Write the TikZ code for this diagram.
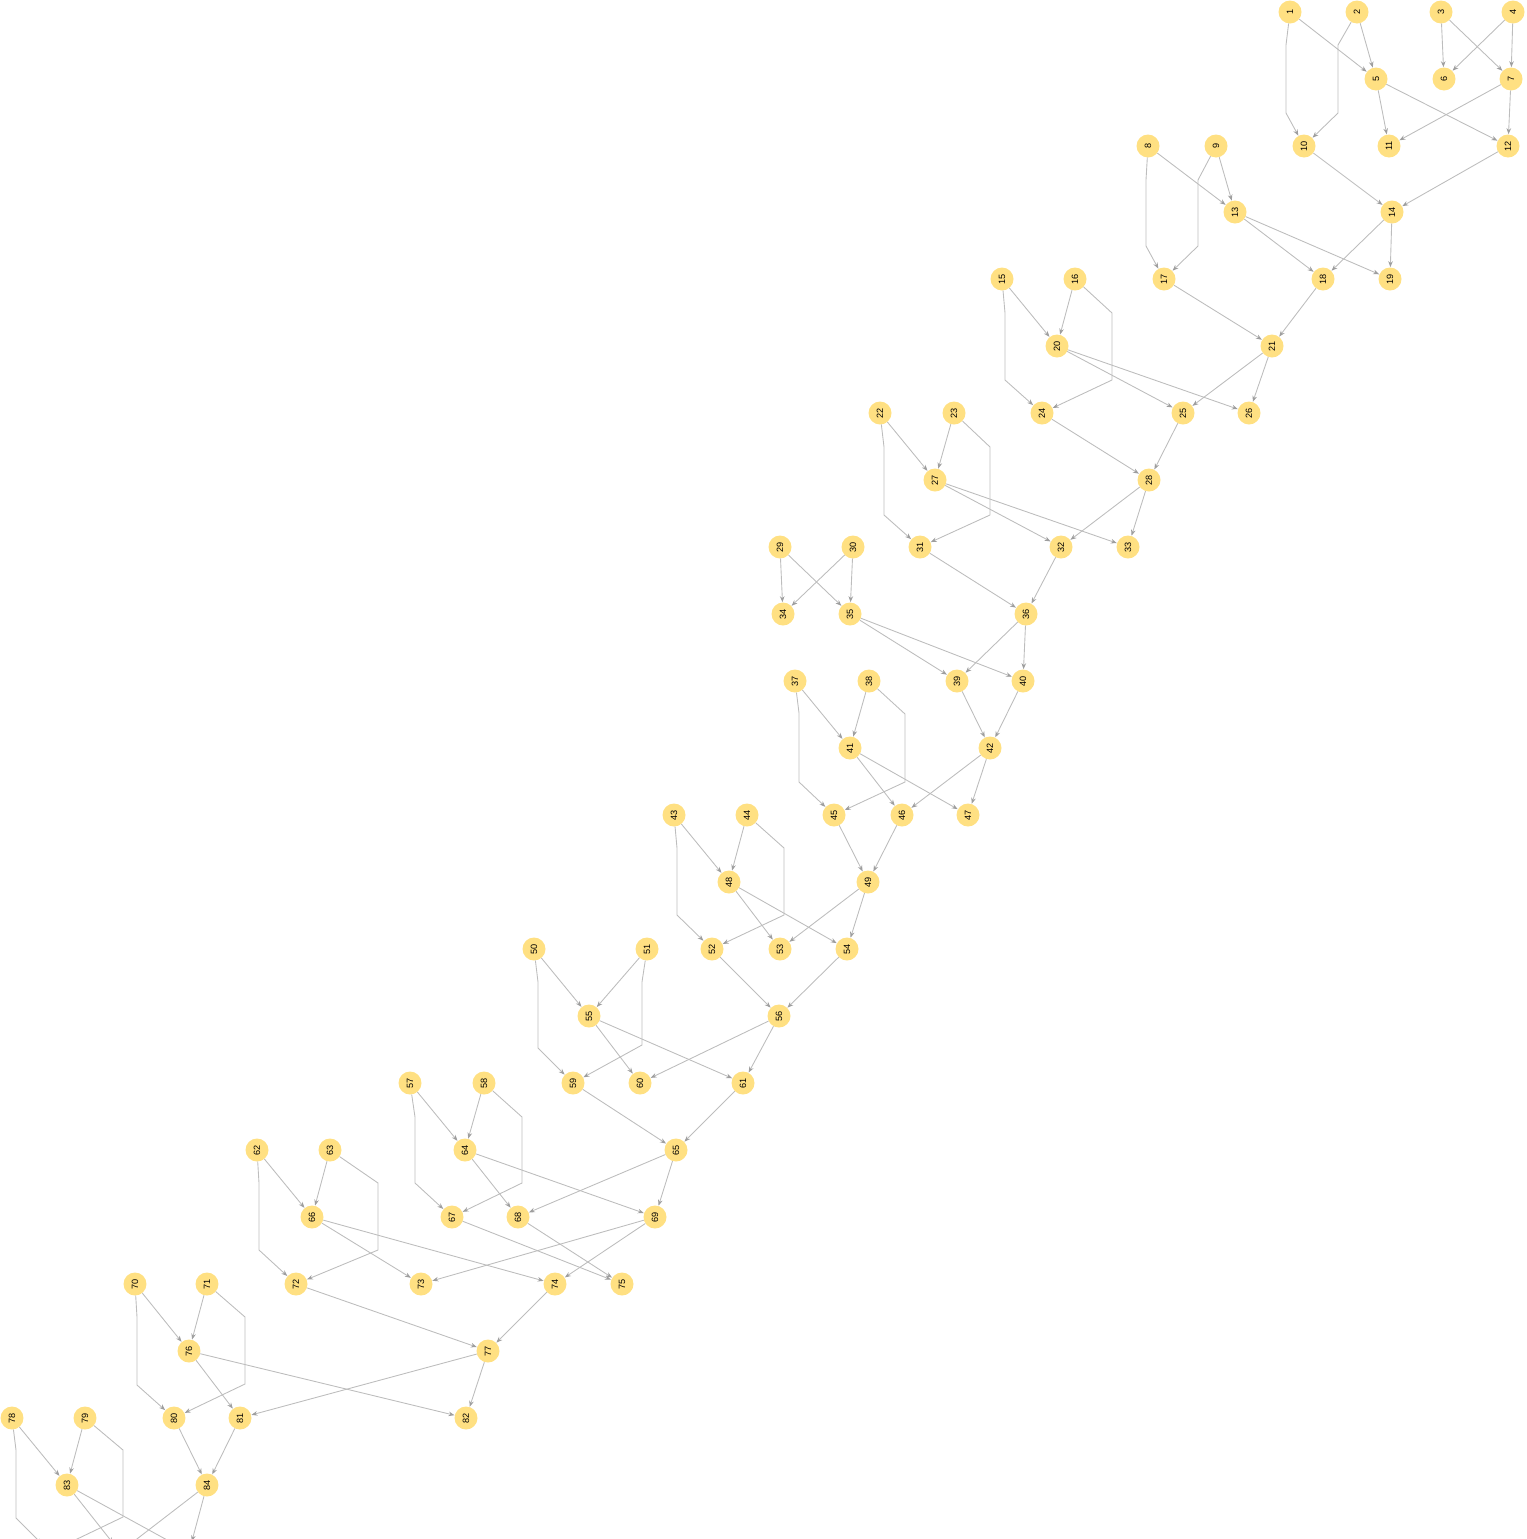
\documentclass[tikz,border=0pt]{standalone}
\usepackage{fontspec}
\setmainfont{Liberation Sans}
\usepackage{tikz}
\usetikzlibrary{arrows.meta}
\definecolor{NodeFill}{HTML}{FFE082}
\definecolor{EdgeGray}{HTML}{BDBDBD}
\definecolor{TipGray}{HTML}{9E9E9E}

\begin{document}
\begin{tikzpicture}[x=0.02cm,y=-0.02cm,line cap=round,line join=round,
    vtx/.style={circle,fill=NodeFill,inner sep=0pt,minimum size=0.46cm,
      font=\fontsize{5.2}{6}\selectfont,rotate=90},
    link/.style={draw=EdgeGray,line width=0.5pt,
      -{Stealth[length=3.4pt,width=2.6pt,color=TipGray]}},
    offlink/.style={link,shorten >=0.22cm}]
  \useasboundingbox (0,0) rectangle (1527,1539);
  % vertices, row by row
  \foreach \k/\x/\y in {1/1290/12,2/1357/12,3/1441/12,4/1513/12,
    5/1376/79,6/1444/79,7/1511/79,
    8/1148/146,9/1216/146,10/1304/146,11/1389/146,12/1508/146,
    13/1235/212,14/1392/212,
    15/1002/279,16/1075/279,17/1164/279,18/1323/279,19/1390/279,
    20/1057/346,21/1272/346,
    22/880/413,23/954/413,24/1042/413,25/1183/413,26/1249/413,
    27/935/480,28/1149/480,
    29/780/547,30/853/547,31/920/547,32/1061/547,33/1128/547,
    34/783/614,35/850/614,36/1026/614,
    37/795/681,38/869/681,39/957/681,40/1023/681,
    41/850/748,42/990/748,
    43/674/815,44/747/815,45/834/815,46/902/815,47/968/815,
    48/729/882,49/868/882,
    50/534/949,51/647/949,52/712/949,53/780/949,54/847/949,
    55/589/1016,56/779/1016,
    57/410/1083,58/484/1083,59/573/1083,60/640/1083,61/743/1083,
    62/257/1150,63/330/1150,64/465/1150,65/676/1150,
    66/312/1217,67/452/1217,68/518/1217,69/655/1217,
    70/135/1284,71/207/1284,72/296/1284,73/421/1284,74/555/1284,75/622/1284,
    76/189/1351,77/488/1351,
    78/12/1418,79/85/1418,80/174/1418,81/240/1418,82/466/1418,
    83/67/1485,84/207/1485}
    \node[vtx] (v\k) at (\x,\y) {\k};
  % ends below the page
  \coordinate (c1) at (50,1552);
  \coordinate (c2) at (120,1552);
  \coordinate (c3) at (189,1552);
  % straight links
  \foreach \a/\b in {1/5,2/5,3/6,3/7,4/6,4/7,5/11,5/12,7/11,7/12,10/14,12/14,
    8/13,9/13,13/18,13/19,14/18,14/19,17/21,18/21,
    15/20,16/20,20/25,20/26,21/25,21/26,24/28,25/28,
    22/27,23/27,27/32,27/33,28/32,28/33,31/36,32/36,
    29/34,29/35,30/34,30/35,35/39,35/40,36/39,36/40,39/42,40/42,
    37/41,38/41,41/46,41/47,42/46,42/47,45/49,46/49,
    43/48,44/48,48/53,48/54,49/53,49/54,52/56,54/56,
    50/55,51/55,55/60,55/61,56/60,56/61,59/65,61/65,
    57/64,58/64,64/68,64/69,65/68,65/69,67/75,68/75,
    62/66,63/66,66/73,66/74,69/73,69/74,72/77,74/77,
    70/76,71/76,76/81,76/82,77/81,77/82,80/84,81/84,
    78/83,79/83}
    \draw[link] (v\a) -- (v\b);
  % bent links
  \foreach \a/\b/\c/\p/\q in {1/10/1286/45/113,2/10/1338/45/113,
    8/17/1146/180/246,9/17/1198/180/246,
    15/24/1005/313/380,16/24/1112/313/380,
    22/31/884/447/515,23/31/990/447/515,
    37/45/799/713/782,38/45/905/714/782,
    43/52/677/848/915,44/52/784/848/915,
    50/59/538/982/1048,51/59/642/982/1045,
    57/67/415/1117/1183,58/67/522/1117/1183,
    62/72/259/1183/1250,63/72/378/1183/1250,
    70/80/137/1317/1385,71/80/245/1317/1384}
    \draw[link] (v\a) -- (\c,\p) -- (\c,\q) -- (v\b);
  \draw[offlink] (v78) -- (16,1450) -- (16,1518) -- (c1);
  \draw[offlink] (v79) -- (123,1450) -- (123,1517) -- (c1);
  \foreach \a/\b in {83/c2,83/c3,84/c2,84/c3}
    \draw[offlink] (v\a) -- (\b);
\end{tikzpicture}
\end{document}
